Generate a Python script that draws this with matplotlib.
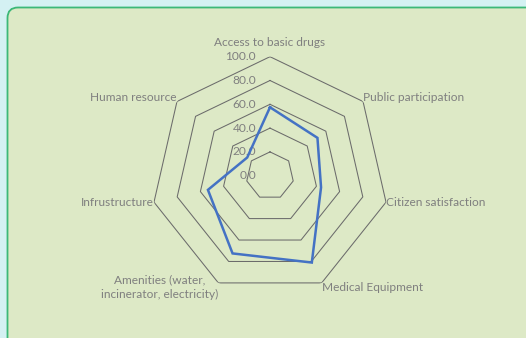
import numpy as np
import matplotlib
matplotlib.use("Agg")
import matplotlib.pyplot as plt
from matplotlib.patches import FancyBboxPatch

categories = ["Access to basic drugs", "Public participation", "Citizen satisfaction",
              "Medical Equipment", "Amenities (water,\nincinerator, electricity)",
              "Infrustructure", "Human resource"]
values = [57.5, 51.0, 44.0, 81.0, 72.5, 53.5, 24.5]
ring_values = [0, 20, 40, 60, 80, 100]
tick_labels = ["0.0", "20.0", "40.0", "60.0", "80.0", "100.0"]

W, H, DPI = 526, 338, 100
fig = plt.figure(figsize=(W / DPI, H / DPI), dpi=DPI)
fig.patch.set_facecolor("#d4f1f3")

box = FancyBboxPatch((7.5 / W, -20 / H), (W + 10) / W, (H + 20 - 7.5) / H,
                     boxstyle="round,pad=0,rounding_size=0.02",
                     transform=fig.transFigure, facecolor="#dde9c6",
                     edgecolor="#3cb878", linewidth=1.3, mutation_aspect=W / H,
                     zorder=-10)
fig.patches.append(box)

font = "Lato"
tcol = "#7f7f7f"
fs = 8.6

cx, cy, R = 270, 338 - 175.7, 119
ax = fig.add_axes([(cx - R) / W, (cy - R) / H, 2 * R / W, 2 * R / H], projection="polar")
ax.set_zorder(5)
ax.set_facecolor("none")
ax.set_theta_zero_location("N")
ax.set_theta_direction(-1)
ax.set_ylim(0, 100)
ax.grid(False)
ax.spines["polar"].set_visible(False)
ax.set_xticks([])
ax.set_yticks([])

n = len(categories)
angles = np.arange(n) * 2 * np.pi / n
closed = np.concatenate([angles, angles[:1]])

for v in ring_values[1:]:
    ax.plot(closed, [v] * (n + 1), color="#6b6b6b", lw=0.75, zorder=1)

vals = np.array(values + values[:1])
ax.plot(closed, vals, color="#4472c4", lw=1.8, zorder=3, solid_joinstyle="miter")

for v, lab in zip(ring_values, tick_labels):
    ax.annotate(lab, xy=(0, v), xytext=(-10, 0), textcoords="offset points",
                ha="right", va="center", fontsize=fs, color=tcol, family=font, zorder=2)

offsets = [(0, 10, "center"), (0, 3, "left"), (0, 0, "left"), (0, -3, "left"),
           (0, -3, "right"), (0, 0, "right"), (0, 3, "right")]
for a, lab, (dx, dy, ha) in zip(angles, categories, offsets):
    ax.annotate(lab, xy=(a, 100), xytext=(dx, dy), textcoords="offset points",
                ha=ha, va="center", fontsize=fs, color=tcol, family=font,
                multialignment="center", linespacing=1.45, annotation_clip=False)

fig.savefig("out.png", dpi=DPI, facecolor=fig.get_facecolor())
